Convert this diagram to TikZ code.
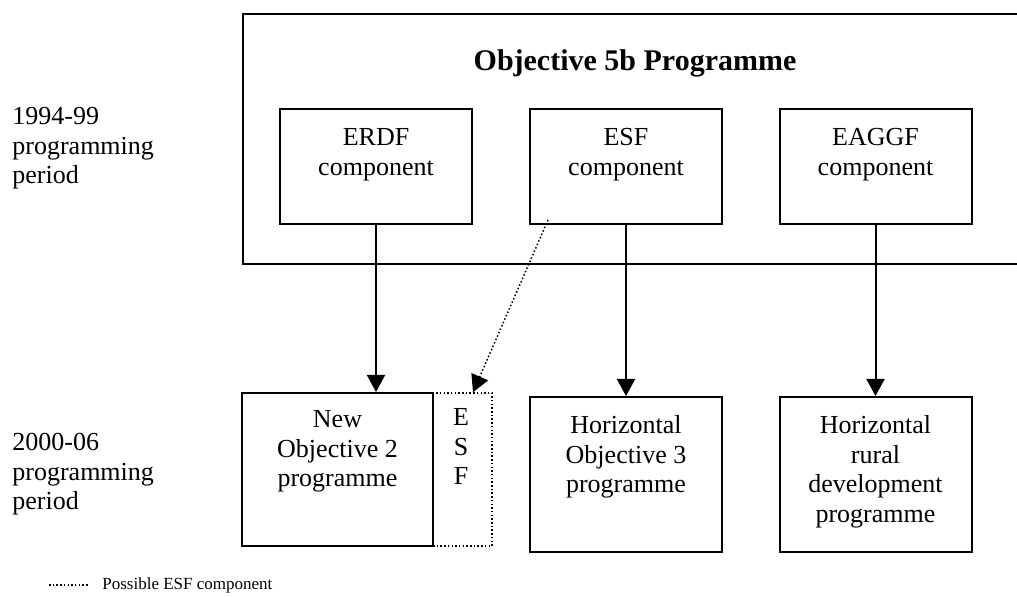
\documentclass[tikz,border=0pt]{standalone}
\usepackage{fontspec}
\setmainfont{Liberation Serif}
\usetikzlibrary{arrows.meta}

\begin{document}
\begin{tikzpicture}[x=0.5pt,y=-0.5pt,
  box/.style={draw,line width=1pt,inner sep=0,minimum width=96pt},
  boxtext/.style={anchor=north,align=center,inner sep=0,font=\fontsize{13}{14.8}\selectfont},
  arr/.style={line width=1pt,-{Triangle[length=8.5pt,width=9pt]}},
  dots/.style={line width=0.75pt,dash pattern=on 0.75pt off 1.1pt}]
\useasboundingbox (0,0) rectangle (1017,597);
% 1994-99 programme
\node[draw,line width=1pt,inner sep=0,minimum width=420pt,minimum height=125pt,anchor=north west] (frame) at (242,13) {};
\node[anchor=base,inner sep=0,font=\fontsize{15}{18}\selectfont\bfseries] (title) at (635,71) {Objective 5b Programme};
\node[box,minimum height=57.5pt] (erdf) at (376,166.5) {};
\node[box,minimum height=57.5pt] (esf) at (626,166.5) {};
\node[box,minimum height=57.5pt] (eaggf) at (875.5,166.5) {};
\node[boxtext] (erdftext) at (376,128) {ERDF\\component};
\node[boxtext] (esftext) at (626,128) {ESF\\component};
\node[boxtext] (eaggftext) at (875.5,128) {EAGGF\\component};
% 2000-06 programmes
\node[draw,dots,inner sep=0,minimum width=29.5pt,minimum height=76.5pt] (esfpart) at (462.5,469.5) {};
\node[box,fill=white,minimum width=95.5pt,minimum height=76.5pt] (obj2) at (337.5,469.5) {};
\node[box,minimum height=77.5pt] (obj3) at (626,474.5) {};
\node[box,minimum height=77.5pt] (rural) at (875.5,474.5) {};
\node[boxtext] (obj2text) at (337.5,410) {New\\Objective 2\\programme};
\node[boxtext] (esfparttext) at (461,408) {E\\S\\F};
\node[boxtext] (obj3text) at (626,415) {Horizontal\\Objective 3\\programme};
\node[boxtext] (ruraltext) at (875.5,415) {Horizontal\\rural\\development\\programme};
% periods
\node[boxtext,anchor=north west,align=left] (period1) at (12,107) {1994-99\\programming\\period};
\node[boxtext,anchor=north west,align=left] (period2) at (12,433) {2000-06\\programming\\period};
% arrows
\draw[arr] (erdf.south) -- (erdf.south |- obj2.north);
\draw[arr] (esf.south) -- (obj3.north);
\draw[arr] (eaggf.south) -- (rural.north);
\coordinate (esftail) at ([xshift=9.5pt,yshift=2.5pt]esf.south west);
\coordinate (esfhead) at ([xshift=5.25pt]esfpart.north);
\draw[dots,-{Triangle[length=8.5pt,width=9pt]}] (esftail) -- (esfhead);
% legend
\coordinate (legL) at (49,585);
\coordinate (legR) at (88,585);
\draw[dots] (legL) -- (legR);
\node[anchor=base west,inner sep=0,font=\fontsize{8.5}{10}\selectfont] (legtext) at (102,590) {Possible ESF component};
\end{tikzpicture}
\end{document}
